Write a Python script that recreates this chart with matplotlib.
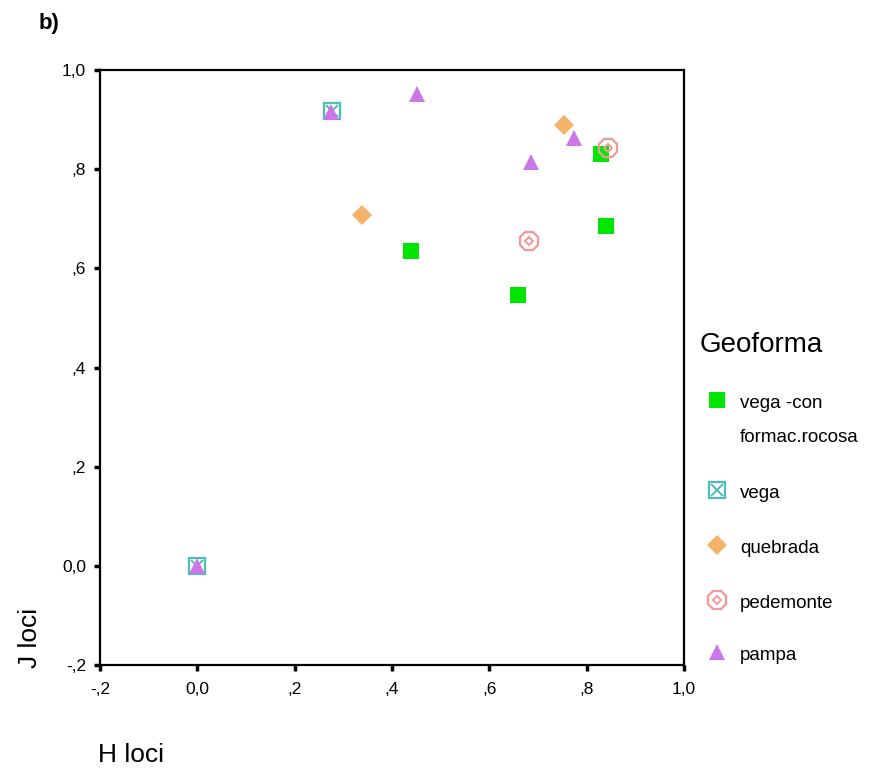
import matplotlib
matplotlib.use("Agg")
import matplotlib.pyplot as plt
from matplotlib.lines import Line2D
from matplotlib.ticker import FuncFormatter, MultipleLocator

plt.rcParams['font.family'] = ['Liberation Sans', 'DejaVu Sans']

# H loci / J loci per geoforma
vega_roca_h = [0.44, 0.66, 0.83, 0.84]
vega_roca_j = [0.635, 0.546, 0.83, 0.686]
vega_h = [0.277, 0.0]
vega_j = [0.917, 0.0]
quebrada_h = [0.338, 0.753]
quebrada_j = [0.708, 0.889]
pedemonte_h = [0.681, 0.844]
pedemonte_j = [0.655, 0.843]
pampa_h = [0.451, 0.275, 0.686, 0.774, 0.0]
pampa_j = [0.952, 0.915, 0.815, 0.863, 0.0]

labels = ["vega -con\nformac.rocosa", "vega", "quebrada", "pedemonte", "pampa"]

green = '#00e600'
cyan = '#4cbcbc'
orange = '#f5b26b'
pink = '#f59898'
violet = '#cc77e8'


def spss_fmt(v, pos):
    s = "{:.1f}".format(v).replace(".", ",")
    if abs(v) < 1e-9:
        return "0,0"
    if s.startswith("0,"):
        s = s[1:]
    elif s.startswith("-0,"):
        s = "-" + s[2:]
    return s


fig = plt.figure(figsize=(8.87, 7.73), dpi=100)
ax = fig.add_axes([0.1127, 0.1397, 0.6584, 0.7697])

# symbol styles, some are two markers stacked
styles = [
    [dict(marker='s', ms=11, mfc=green, mec=green, mew=0)],
    [dict(marker='s', ms=11, mfc='none', mec=cyan, mew=1.6),
     dict(marker='x', ms=8, mfc='none', mec=cyan, mew=1.4)],
    [dict(marker='D', ms=10, mfc=orange, mec=orange, mew=0)],
    [dict(marker='8', ms=14, mfc='none', mec=pink, mew=1.6),
     dict(marker='D', ms=4.5, mfc='none', mec=pink, mew=1.4)],
    [dict(marker='^', ms=11, mfc=violet, mec=violet, mew=0)],
]
series = [(vega_roca_h, vega_roca_j), (vega_h, vega_j), (quebrada_h, quebrada_j),
          (pedemonte_h, pedemonte_j), (pampa_h, pampa_j)]

for (h, j), st in zip(series, styles):
    for s in st:
        ax.plot(h, j, ls='none', clip_on=False, **s)

ax.set_xlim(-0.2, 1.0)
ax.set_ylim(-0.2, 1.0)
ax.xaxis.set_major_locator(MultipleLocator(0.2))
ax.yaxis.set_major_locator(MultipleLocator(0.2))
ax.xaxis.set_major_formatter(FuncFormatter(spss_fmt))
ax.yaxis.set_major_formatter(FuncFormatter(spss_fmt))
ax.tick_params(direction='out', length=4, width=2.5, labelsize=12.5)
ax.tick_params(axis='y', pad=6)
ax.tick_params(axis='x', pad=8)
for sp in ax.spines.values():
    sp.set_linewidth(1.6)

fig.text(0.034, 1 - 668 / 773, "J loci", rotation=90, fontsize=19, ha='center', va='bottom')
fig.text(0.110, 1 - 755 / 773, "H loci", fontsize=19, ha='left', va='center')
fig.text(0.043, 1 - 24 / 773, "b)", fontsize=16, fontweight='bold', ha='left', va='center')

# legend drawn in figure pixels
W, H = 887, 773
fig.text(700 / W, 1 - 345 / H, "Geoforma", fontsize=20, ha='left', va='center')
rows = [400, 490, 545, 600, 652]
for y, lab, st in zip(rows, labels, styles):
    for s in st:
        fig.add_artist(Line2D([717 / W], [1 - y / H], transform=fig.transFigure, ls='none', **s))
    fig.text(740 / W, 1 - (y - 5) / H, lab, fontsize=13.5, ha='left', va='top', linespacing=2.3)

fig.savefig("out.png", dpi=100)
